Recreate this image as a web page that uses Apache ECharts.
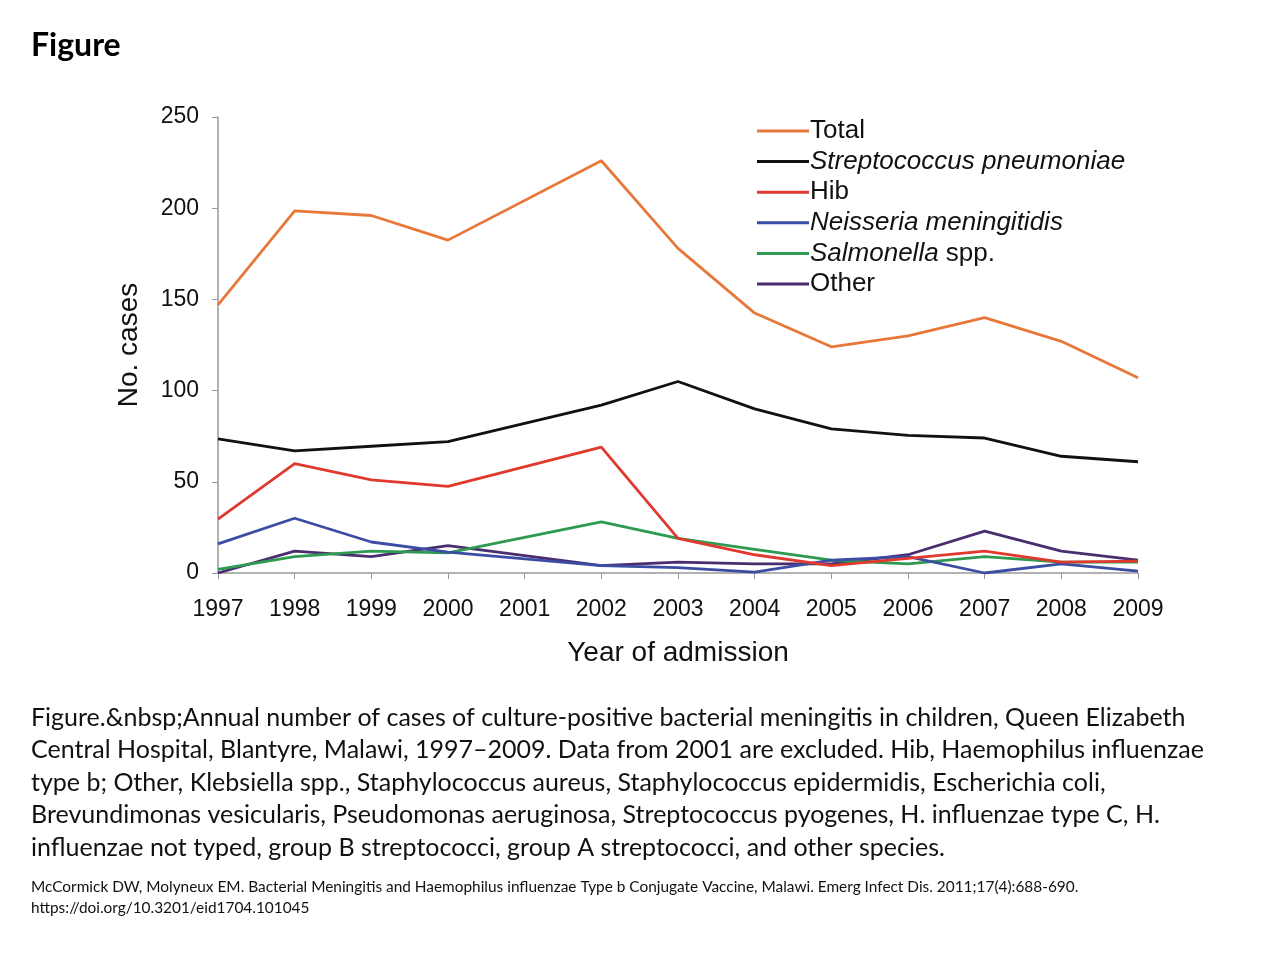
<!DOCTYPE html>
<html>
<head>
<meta charset="utf-8">
<script src="https://cdn.jsdelivr.net/npm/echarts@6/dist/echarts.min.js"></script>
<style>
html,body{margin:0;padding:0;background:#fff;}
#chart{width:1280px;height:960px;}
</style>
</head>
<body>
<div id="chart"></div>
<script>
const years = ['1997','1998','1999','2000','2001','2002','2003','2004','2005','2006','2007','2008','2009'];
const yTicks = [0, 50, 100, 150, 200, 250];
const total       = [147, 198.5, 196, 182.5, null, 226, 178, 142.5, 124, 130, 140, 127, 107];
const pneumoniae  = [73.5, 67, 69.5, 72, null, 92, 105, 90, 79, 75.5, 74, 64, 61];
const hib         = [29.5, 60, 51, 47.5, null, 69, 19, 10, 4, 8, 12, 6, 6.5];
const neisseria   = [16, 30, 17, 11.5, null, 4, 3, 0.5, 7, 9, 0, 5, 1];
const salmonella  = [2, 9, 12, 11, null, 28, 19, 13, 7, 5, 9, 6, 6];
const other       = [0, 12, 9, 15, null, 4, 6, 5, 5, 10, 23, 12, 7];

const seriesNames = ['Total','Streptococcus pneumoniae','Hib','Neisseria meningitidis','Salmonella spp.','Other'];
const seriesData = [total, pneumoniae, hib, neisseria, salmonella, other];
const colors = ['#E8783A','#111111','#E0392E','#3B4DA3','#2E9A50','#4A2D6E'];

const captionLines = [
  'Figure.&nbsp;Annual number of cases of culture-positive bacterial meningitis in children, Queen Elizabeth',
  'Central Hospital, Blantyre, Malawi, 1997\u20132009. Data from 2001 are excluded. Hib, Haemophilus influenzae',
  'type b; Other, Klebsiella spp., Staphylococcus aureus, Staphylococcus epidermidis, Escherichia coli,',
  'Brevundimonas vesicularis, Pseudomonas aeruginosa, Streptococcus pyogenes, H. influenzae type C, H.',
  'influenzae not typed, group B streptococci, group A streptococci, and other species.'
];
const citeLines = [
  'McCormick DW, Molyneux EM. Bacterial Meningitis and Haemophilus influenzae Type b Conjugate Vaccine, Malawi. Emerg Infect Dis. 2011;17(4):688-690.',
  'https://doi.org/10.3201/eid1704.101045'
];

const chart = echarts.init(document.getElementById('chart'));
const AX = 'Liberation Sans, Arial, sans-serif';
const CAP = 'Lato, "Open Sans", sans-serif';

const graphics = [
  {type:'text', left:31, top:30, style:{text:'Figure', font:'bold 32px ' + CAP, fill:'#000'}}
];
captionLines.forEach((t,i)=>{
  graphics.push({type:'text', left:31, top:705 + i*32.6, style:{text:t, font:'25px ' + CAP, fill:'#111'}});
});
citeLines.forEach((t,i)=>{
  graphics.push({type:'text', left:31, top:880 + i*21, style:{text:t, font:'15.4px ' + CAP, fill:'#111'}});
});

function legendFmt(name){
  if (name === 'Streptococcus pneumoniae') return '{i|Streptococcus pneumoniae}';
  if (name === 'Neisseria meningitidis') return '{i|Neisseria meningitidis}';
  if (name === 'Salmonella spp.') return '{i|Salmonella} spp.';
  return name;
}

chart.setOption({
  backgroundColor:'#fff',
  animation:false,
  color: colors,
  grid:{left:218, right:142, top:117, bottom:387, containLabel:false},
  legend:{
    orient:'vertical', left:752, top:113, itemGap:4.6,
    itemWidth:52, itemHeight:3, icon:'rect',
    data: seriesNames,
    formatter: legendFmt,
    textStyle:{fontFamily:AX, fontSize:26, color:'#111', padding:[0,0,0,-4],
      rich:{i:{fontFamily:AX, fontSize:26, fontStyle:'italic', color:'#111'}}}
  },
  xAxis:{
    type:'category', data:years, boundaryGap:false,
    name:'Year of admission', nameLocation:'middle', nameGap:66,
    nameTextStyle:{fontFamily:AX, fontSize:28, color:'#111'},
    axisLine:{lineStyle:{color:'#999', width:1.5}},
    axisTick:{alignWithLabel:true, length:6, lineStyle:{color:'#999'}},
    axisLabel:{fontFamily:AX, fontSize:23, color:'#111', margin:25}
  },
  yAxis:{
    type:'value', min:yTicks[0], max:yTicks[yTicks.length-1], interval:50,
    name:'No. cases', nameLocation:'middle', nameGap:75,
    nameTextStyle:{fontFamily:AX, fontSize:28, color:'#111'},
    axisLine:{show:true, lineStyle:{color:'#999', width:1.5}},
    axisTick:{show:true, length:6, lineStyle:{color:'#999'}},
    axisLabel:{fontFamily:AX, fontSize:23, color:'#111', margin:19},
    splitLine:{show:false}
  },
  series: seriesNames.map((n,i)=>({
    name:n, type:'line', data:seriesData[i], connectNulls:true,
    showSymbol:false, symbol:'none',
    lineStyle:{width:2.8, color:colors[i]},
    z: 10 - i
  })),
  graphic: graphics
});
</script>
</body>
</html>
